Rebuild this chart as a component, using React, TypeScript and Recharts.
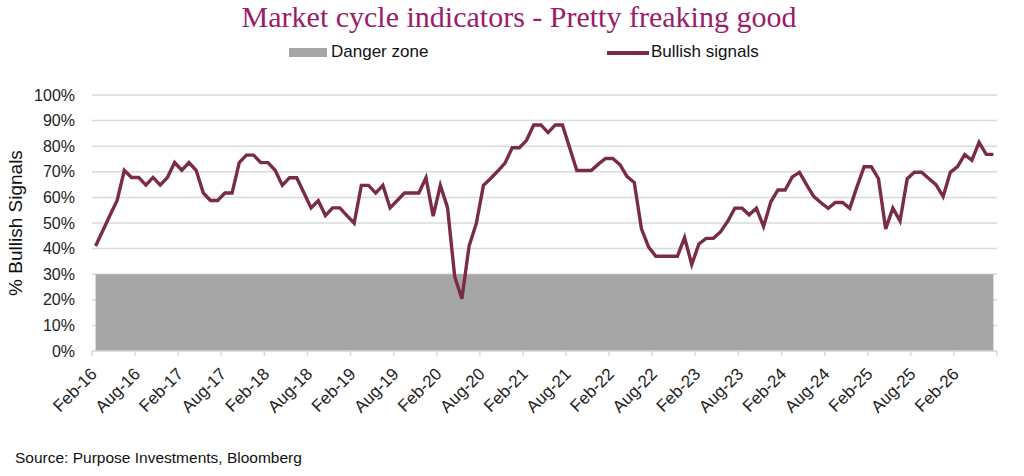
import React from 'react';
import { ComposedChart, Area, Line, XAxis, YAxis, CartesianGrid } from 'recharts';

// Half-year tick labels along the monthly date axis (Feb-16 .. Feb-26)
const tickLabels = [
  'Feb-16', 'Aug-16', 'Feb-17', 'Aug-17', 'Feb-18', 'Aug-18', 'Feb-19',
  'Aug-19', 'Feb-20', 'Aug-20', 'Feb-21', 'Aug-21', 'Feb-22', 'Aug-22',
  'Feb-23', 'Aug-23', 'Feb-24', 'Aug-24', 'Feb-25', 'Aug-25', 'Feb-26',
];

const yTicks = [0, 10, 20, 30, 40, 50, 60, 70, 80, 90, 100];

// Share of market cycle indicators flashing bullish, monthly from Feb-16
const bullishSignals = [
  41, 47, 53, 58.8, 70.6, 67.8, 67.8, 64.8, 67.8, 64.8,
  67.8, 73.6, 70.6, 73.6, 70.6, 61.7, 58.8, 58.8, 61.7, 61.7,
  73.6, 76.5, 76.5, 73.6, 73.6, 70.6, 64.7, 67.7, 67.7, 61.8,
  55.9, 58.7, 52.9, 55.9, 55.9, 52.9, 49.9, 64.7, 64.7, 61.7,
  64.7, 55.9, 58.8, 61.7, 61.7, 61.7, 67.7, 52.7, 64.7, 56,
  29, 20.4, 41, 49.8, 64.7, 67.4, 70.3, 73.4, 79.4, 79.4,
  82.3, 88.3, 88.3, 85.3, 88.3, 88.3, 79.4, 70.5, 70.5, 70.5,
  73, 75.2, 75.2, 72.8, 68.1, 65.8, 47.7, 40.6, 37, 37,
  37, 37, 44.3, 33.8, 41.8, 44, 44, 46.5, 50.6, 55.8,
  55.8, 53.2, 55.8, 48.6, 58.2, 62.9, 62.9, 68, 69.8, 64.9,
  60.3, 57.9, 55.7, 58, 58, 55.7, 64.1, 72, 72, 67.3,
  47.7, 55.8, 50.8, 67.3, 69.8, 69.8, 67.4, 65, 60.3, 69.8,
  72, 76.7, 74.5, 81.5, 76.8, 76.8,
];

// Threshold below which the market is considered in the danger zone
const DANGER_LEVEL = 30;

const MONTHS_PER_TICK = 6;
const AXIS_END = tickLabels.length * MONTHS_PER_TICK; // Aug-26

// Each month's value sits in the middle of its month slot
const data = bullishSignals.map((v, i) => ({ m: i + 0.5, bullish: v, danger: DANGER_LEVEL }));
const xTicks = tickLabels.map((_, i) => i * MONTHS_PER_TICK).concat(AXIS_END);

const FONT = '"Liberation Sans", Arial, sans-serif';
const LINE_COLOR = '#7A2B4A';
const ZONE_COLOR = '#A6A6A6';
const GRID_COLOR = '#D9D9D9';

function XTick(props: any) {
  const { x, y, payload } = props;
  const label = tickLabels[payload.value / MONTHS_PER_TICK] ?? '';
  return (
    <g transform={`translate(${x + 6},${y + 17})`}>
      <text textAnchor="end" transform="rotate(-45)" fontSize={17} fill="#222" fontFamily={FONT}>
        {label}
      </text>
    </g>
  );
}

export default function App() {
  return (
    <div style={{ position: 'absolute', left: 0, top: 0, width: 1024, height: 476, background: '#fff', fontFamily: FONT }}>
      <div
        style={{
          position: 'absolute', left: 7, top: 0, width: 1024, textAlign: 'center',
          fontFamily: '"Liberation Serif", "DejaVu Serif", serif', fontSize: 30, color: '#9B1C68',
        }}
      >
        Market cycle indicators - Pretty freaking good
      </div>

      {/* legend */}
      <div style={{ position: 'absolute', left: 289, top: 48, width: 38, height: 9, background: ZONE_COLOR }} />
      <div style={{ position: 'absolute', left: 331, top: 42, fontSize: 17, color: '#111', lineHeight: '20px' }}>Danger zone</div>
      <div style={{ position: 'absolute', left: 607, top: 51, width: 42, height: 4, background: LINE_COLOR }} />
      <div style={{ position: 'absolute', left: 651, top: 42, fontSize: 17, color: '#111', lineHeight: '20px' }}>Bullish signals</div>

      <div
        style={{
          position: 'absolute', left: 15.5, top: 222.5, transform: 'translate(-50%, -50%) rotate(-90deg)',
          fontSize: 19, color: '#111', whiteSpace: 'nowrap',
        }}
      >
        % Bullish Signals
      </div>

      <div style={{ position: 'absolute', left: 15, top: 449, fontSize: 15.5, color: '#111', whiteSpace: 'nowrap' }}>
        Source: Purpose Investments, Bloomberg
      </div>

      <div style={{ position: 'absolute', left: 0, top: 0 }}>
        <ComposedChart width={1024} height={476} data={data} margin={{ top: 95, right: 27, bottom: 0, left: 0 }}>
          <CartesianGrid vertical={false} stroke={GRID_COLOR} strokeWidth={1.5} />
          <XAxis
            dataKey="m"
            type="number"
            domain={[0, AXIS_END]}
            ticks={xTicks}
            interval={0}
            height={125}
            tickSize={5}
            axisLine={{ stroke: GRID_COLOR, strokeWidth: 1.5 }}
            tickLine={{ stroke: GRID_COLOR, strokeWidth: 1.5 }}
            tick={<XTick />}
          />
          <YAxis
            type="number"
            domain={[0, 100]}
            ticks={yTicks}
            interval={0}
            width={92}
            axisLine={false}
            tickLine={false}
            tickSize={0}
            tickMargin={17}
            tickFormatter={(v: number) => `${v}%`}
            tick={{ fontSize: 16, fill: '#222', fontFamily: FONT }}
          />
          <Area
            type="linear"
            dataKey="danger"
            fill={ZONE_COLOR}
            fillOpacity={1}
            stroke="none"
            isAnimationActive={false}
          />
          <Line
            type="linear"
            dataKey="bullish"
            stroke={LINE_COLOR}
            strokeWidth={3.4}
            dot={false}
            isAnimationActive={false}
          />
        </ComposedChart>
      </div>
    </div>
  );
}
